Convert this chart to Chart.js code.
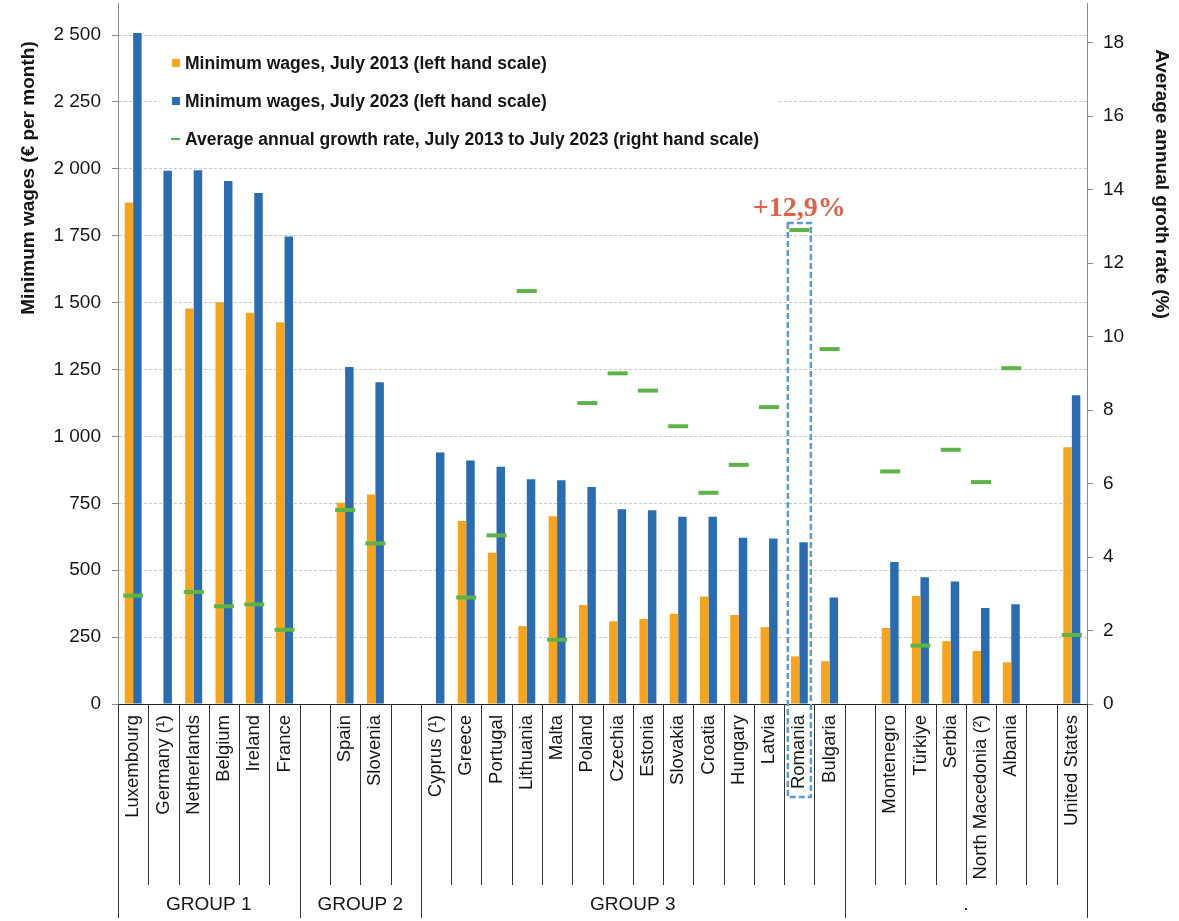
<!DOCTYPE html>
<html>
<head>
<meta charset="utf-8">
<title>Minimum wages, July 2013 and July 2023</title>
<script src="https://cdn.jsdelivr.net/npm/chart.js@4.4.1/dist/chart.umd.min.js"></script>
<style>
  html, body { margin: 0; padding: 0; background: #fff; }
  #wrap { width: 1179px; height: 921px; position: relative; }
</style>
</head>
<body>
<div id="wrap"><canvas id="wageChart"></canvas></div>
<script>
// Values (EUR per month, growth in % per year)
const categories = [
  'Luxembourg', 'Germany (¹)', 'Netherlands', 'Belgium', 'Ireland', 'France', '',
  'Spain', 'Slovenia', '',
  'Cyprus (¹)', 'Greece', 'Portugal', 'Lithuania', 'Malta', 'Poland', 'Czechia', 'Estonia',
  'Slovakia', 'Croatia', 'Hungary', 'Latvia', 'Romania', 'Bulgaria', '',
  'Montenegro', 'Türkiye', 'Serbia', 'North Macedonia (²)', 'Albania', '',
  'United States'
];

const wages2013 = [
  1874, null, 1478, 1502, 1462, 1427, null,
  752, 783, null,
  null, 684, 565, 291, 702, 370, 309, 318, 337, 402, 333, 287, 178, 160, null,
  284, 404, 235, 198, 156, null,
  960
];

const wages2023 = [
  2508, 1993, 1995, 1955, 1910, 1747, null,
  1260, 1203, null,
  940, 910, 887, 840, 836, 811, 728, 724, 700, 700, 621, 619, 605, 398, null,
  531, 474, 458, 359, 373, null,
  1154
];

const growthRate = [
  2.95, null, 3.05, 2.66, 2.71, 2.02, null,
  5.28, 4.37, null,
  null, 2.90, 4.59, 11.24, 1.75, 8.19, 9.00, 8.53, 7.56, 5.75, 6.51, 8.08, 12.90, 9.66, null,
  6.33, 1.59, 6.92, 6.04, 9.14, null,
  1.88
];

const groupLabels = ['GROUP 1', 'GROUP 2', 'GROUP 3', '.'];
const groupSizes = [6, 4, 14, 8];

const highlightIndex = 22;
const highlightText = '+12,9%';

const seriesLabels = [
  'Minimum wages, July 2013 (left hand scale)',
  'Minimum wages, July 2023 (left hand scale)',
  'Average annual growth rate, July 2013 to July 2023 (right hand scale)'
];
const leftTitle = 'Minimum wages (€ per month)';
const rightTitle = 'Average annual groth rate (%)';

const FONT = "'Liberation Sans', Arial, sans-serif";
const COLORS = {
  orange: '#F7A31C',
  blue: '#2A6CB3',
  green: '#5DB446',
  grid: '#C9C9C9',
  axis: '#8A8A8A',
  text: '#151515',
  note: '#E0614A',
  box: '#5B9BD5'
};

function fmtThousands(v) {
  if (v < 1000) return String(v);
  return Math.floor(v / 1000) + ' ' + String(v % 1000).padStart(3, '0');
}

// no extra room for the first/last tick labels, the frame is fixed
function fixBox(width, height) {
  return s => {
    if (width) s.width = width;
    if (height) s.height = height;
    s.paddingTop = 0;
    s.paddingBottom = 0;
    s.paddingLeft = 0;
    s.paddingRight = 0;
  };
}

// draws titles, legend, category separators, group row and the Romania highlight
const decorPlugin = {
  id: 'decor',
  afterDraw(chart) {
    const { ctx, scales: { x, y1 } } = chart;
    const n = categories.length;
    const boundary = i => (x.getPixelForValue(i - 1) + x.getPixelForValue(i)) / 2;

    ctx.save();
    ctx.fillStyle = COLORS.text;
    ctx.font = 'bold 19px ' + FONT;
    ctx.textAlign = 'center';
    ctx.textBaseline = 'middle';

    ctx.save();
    ctx.translate(29, 178);
    ctx.rotate(-Math.PI / 2);
    ctx.fillText(leftTitle, 0, 0);
    ctx.restore();

    ctx.save();
    ctx.translate(1161, 184);
    ctx.rotate(Math.PI / 2);
    ctx.fillText(rightTitle, 0, 0);
    ctx.restore();

    // category separators
    const rowBottom = x.top + 181;
    const groupBottom = x.top + 214;
    ctx.strokeStyle = '#333';
    ctx.lineWidth = 1;
    ctx.beginPath();
    for (let i = 1; i < n; i++) {
      const bx = Math.round(boundary(i)) + 0.5;
      ctx.moveTo(bx, x.top);
      ctx.lineTo(bx, rowBottom);
    }
    ctx.stroke();

    // group row
    const edges = [x.left];
    let acc = 0;
    groupSizes.forEach(s => {
      acc += s;
      edges.push(acc < n ? boundary(acc) : x.right);
    });
    ctx.beginPath();
    edges.forEach(e => {
      const ex = Math.round(e) + 0.5;
      ctx.moveTo(ex, x.top);
      ctx.lineTo(ex, groupBottom);
    });
    ctx.stroke();

    ctx.font = '19px ' + FONT;
    groupLabels.forEach((g, k) => {
      ctx.fillText(g, (edges[k] + edges[k + 1]) / 2, x.top + 201);
    });

    // legend inside the plot
    ctx.fillStyle = '#fff';
    ctx.fillRect(160, 42, 618, 116);
    const legendItems = [
      { color: COLORS.orange, bar: true },
      { color: COLORS.blue, bar: true },
      { color: COLORS.green, bar: false }
    ];
    ctx.font = 'bold 17.5px ' + FONT;
    ctx.textAlign = 'left';
    legendItems.forEach((it, r) => {
      const cy = 63 + r * 38;
      ctx.fillStyle = it.color;
      if (it.bar) ctx.fillRect(172, cy - 4, 8, 8);
      else ctx.fillRect(171, cy - 1, 9, 2);
      ctx.fillStyle = COLORS.text;
      ctx.fillText(seriesLabels[r], 185, cy + 1);
    });

    // highlight for Romania
    const hx = x.getPixelForValue(highlightIndex);
    const hy = y1.getPixelForValue(growthRate[highlightIndex]);
    ctx.setLineDash([6, 3]);
    ctx.strokeStyle = COLORS.box;
    ctx.lineWidth = 2.5;
    ctx.strokeRect(hx - 11.5, hy - 7, 23, x.top + 93 - (hy - 7));
    ctx.setLineDash([]);

    ctx.fillStyle = COLORS.note;
    ctx.font = "bold 28px 'Liberation Serif', 'Times New Roman', serif";
    ctx.textAlign = 'center';
    ctx.textBaseline = 'alphabetic';
    ctx.fillText(highlightText, hx, hy - 14);
    ctx.restore();
  }
};

new Chart(document.getElementById('wageChart').getContext('2d'), {
  data: {
    labels: categories,
    datasets: [
      {
        type: 'line',
        label: seriesLabels[2],
        data: growthRate,
        yAxisID: 'y1',
        showLine: false,
        pointStyle: 'line',
        pointRadius: 10,
        pointBorderWidth: 4,
        pointBorderColor: COLORS.green,
        borderColor: COLORS.green,
        order: 0
      },
      {
        type: 'bar',
        label: seriesLabels[0],
        data: wages2013,
        yAxisID: 'y',
        backgroundColor: COLORS.orange,
        borderWidth: 0,
        categoryPercentage: 0.56,
        barPercentage: 1.0,
        order: 1
      },
      {
        type: 'bar',
        label: seriesLabels[1],
        data: wages2023,
        yAxisID: 'y',
        backgroundColor: COLORS.blue,
        borderWidth: 0,
        categoryPercentage: 0.56,
        barPercentage: 1.0,
        order: 1
      }
    ]
  },
  options: {
    responsive: true,
    maintainAspectRatio: false,
    animation: false,
    devicePixelRatio: 1,
    layout: { autoPadding: false, padding: { top: 3, left: 0, right: 0, bottom: 0 } },
    plugins: { legend: { display: false }, tooltip: { enabled: false } },
    scales: {
      x: {
        type: 'category',
        offset: true,
        grid: { display: false },
        border: { display: true, color: '#222', width: 1 },
        ticks: {
          autoSkip: false, minRotation: 90, maxRotation: 90, padding: 3,
          color: COLORS.text, font: { family: FONT, size: 18.5 }
        },
        afterFit: fixBox(0, 217)
      },
      y: {
        position: 'left',
        min: 0,
        max: 2620,
        grid: { color: COLORS.grid, tickColor: COLORS.axis, tickLength: 6 },
        border: { display: true, color: COLORS.axis, dash: [3, 2] },
        ticks: {
          stepSize: 250, includeBounds: false, padding: 11,
          color: COLORS.text, font: { family: FONT, size: 19 },
          callback: v => fmtThousands(v)
        },
        afterFit: fixBox(118, 0)
      },
      y1: {
        position: 'right',
        min: 0,
        max: 19.08,
        grid: { drawOnChartArea: false, color: COLORS.axis, tickLength: 6 },
        border: { display: true, color: COLORS.axis },
        ticks: {
          stepSize: 2, includeBounds: false, padding: 10,
          color: COLORS.text, font: { family: FONT, size: 19 }
        },
        afterFit: fixBox(92, 0)
      }
    }
  },
  plugins: [decorPlugin]
});
</script>
</body>
</html>
